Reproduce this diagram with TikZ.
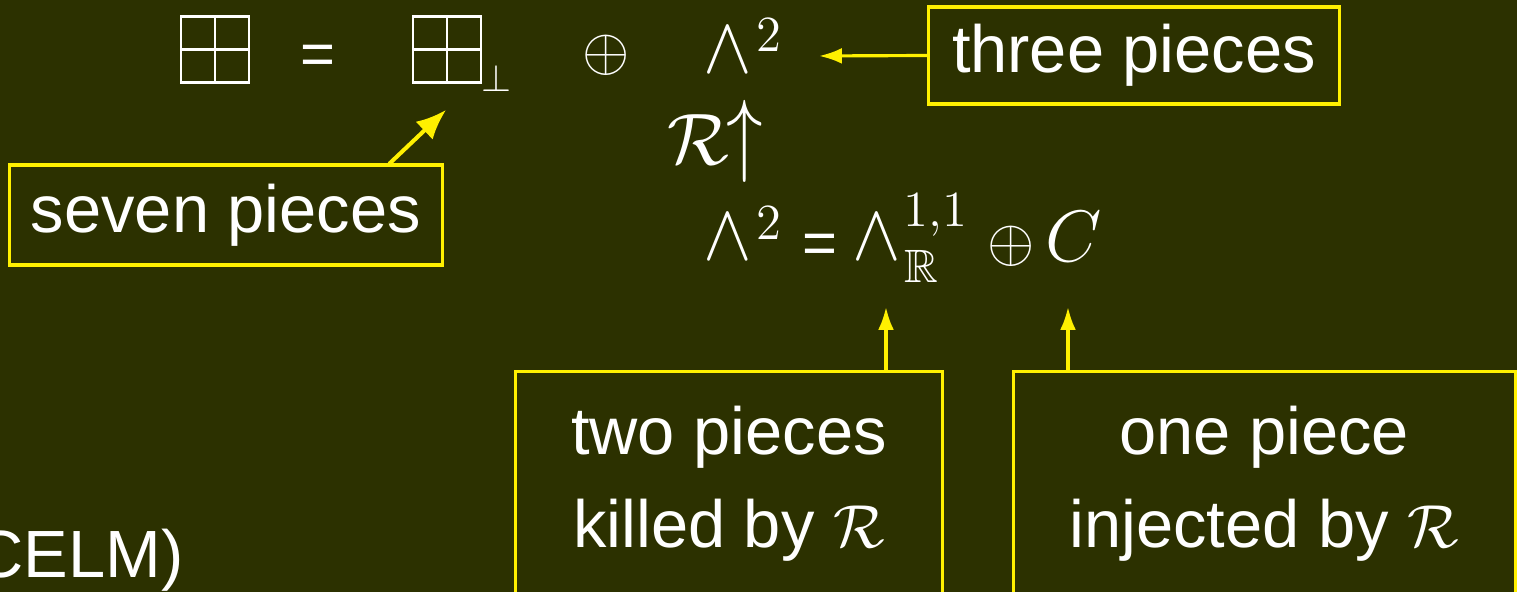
\documentclass[tikz,border=0pt]{standalone}
\usepackage{amssymb}
\usepackage{fontspec}
\setsansfont{Liberation Sans}
\usetikzlibrary{arrows.meta,calc}
\definecolor{bg}{RGB}{44,49,0}
\definecolor{ylw}{RGB}{255,240,0}
\begin{document}
\begin{tikzpicture}[x=0.01cm,y=-0.01cm,
  lbl/.style={text=white,inner sep=0pt,font=\fontsize{19}{23}\selectfont\sffamily},
  ybox/.style={draw=ylw,line width=0.9pt,inner sep=0pt},
  yarr/.style={draw=ylw,line width=0.9pt,-{Latex[length=6.5pt,width=4.5pt]}},
  yd/.style={draw=white,line width=0.85pt},
  m/.style={text=white,inner sep=0pt,anchor=base west},
  wedgesym/.style={m,font=\fontsize{21}{25}\selectfont},
  sup/.style={m,font=\fontsize{19}{23}\selectfont},
  eqs/.style={m,font=\fontsize{17}{20}\selectfont\sffamily},
  plus/.style={text=white,inner sep=0pt,anchor=center,font=\fontsize{16.5}{20}\selectfont}]
\fill[bg] (0,0) rectangle (1517,592);
\useasboundingbox (0,0) rectangle (1517,592);
\clip (0,0) rectangle (1517,592);

% top row
\draw[yd] (181,17) rectangle (249,83) (215,17) -- (215,83) (181,50) -- (249,50);
\node[eqs] (eqa) at (300,75) {=};
\draw[yd] (413,17) rectangle (481,83) (447,17) -- (447,83) (413,50) -- (481,50);
\node[m,font=\fontsize{10.5}{12}\selectfont] (perp) at (481,92) {$\perp$};
\node[plus] (opa) at (606,55) {$\oplus$};
\node[wedgesym] (wa) at (703,73) {\scalebox{1}[1.1]{$\wedge$}};
\node[sup] (wa2) at (756,52) {$\scriptstyle 2$};

% R arrow
\node[m,font=\fontsize{19.5}{23}\selectfont] (calr) at (667,165) {$\mathcal{R}$};
\node[text=white,inner sep=0pt,font=\fontsize{19.5}{23}\selectfont] (up) at (745,141.5) {\scalebox{1}[1.27]{$\uparrow$}};

% bottom equation
\node[wedgesym] (wb) at (703,260) {\scalebox{1}[1.1]{$\wedge$}};
\node[sup] (wb2) at (756,240) {$\scriptstyle 2$};
\node[eqs] (eqb) at (802,263.5) {=};
\node[wedgesym] (wc) at (852,260) {\scalebox{1}[1.1]{$\wedge$}};
\node[sup] (wc11) at (903,227) {$\scriptstyle 1,1$};
\node[sup] (rr) at (904,283) {$\scriptstyle\mathbb{R}$};
\node[plus] (opb) at (1011,246) {$\oplus$};
\node[m,font=\fontsize{20}{24}\selectfont] (cc) at (1045,262) {$C$};

% labels
\node[lbl,ybox,minimum width=4.10cm,minimum height=0.97cm] (three) at (1134,55.5) {three pieces};
\coordinate (t0) at (819,56);
\draw[yarr] (three.west) -- (t0);

\node[lbl,ybox,minimum width=4.32cm,minimum height=1.00cm] (seven) at (226,215) {seven pieces};
\coordinate (t3) at (446,110);
\draw[draw=ylw,line width=1.15pt,line cap=round,-{Latex[length=8.5pt,width=7pt]}] ($(seven.north east)+(-54,0)$) -- (t3);

\node[ybox,minimum width=4.26cm,minimum height=2.68cm] (box1) at (729,506) {};
\node[lbl,anchor=base] (b1a) at (729,455) {two pieces};
\node[lbl,anchor=base] (b1b) at (729,548) {killed by $\mathcal{R}$};
\coordinate (t1) at (886,307);
\draw[yarr] (box1.north -| t1) -- (t1);

\node[ybox,minimum width=5.01cm,minimum height=2.68cm] (box2) at (1264.5,506) {};
\node[lbl,anchor=base] (b2a) at (1264,455) {one piece};
\node[lbl,anchor=base] (b2b) at (1264,548) {injected by $\mathcal{R}$};
\coordinate (t2) at (1068,307);
\draw[yarr] (box2.north -| t2) -- (t2);

\node[lbl,anchor=base west] (celm) at (-25,578) {CELM)};
\end{tikzpicture}
\end{document}
